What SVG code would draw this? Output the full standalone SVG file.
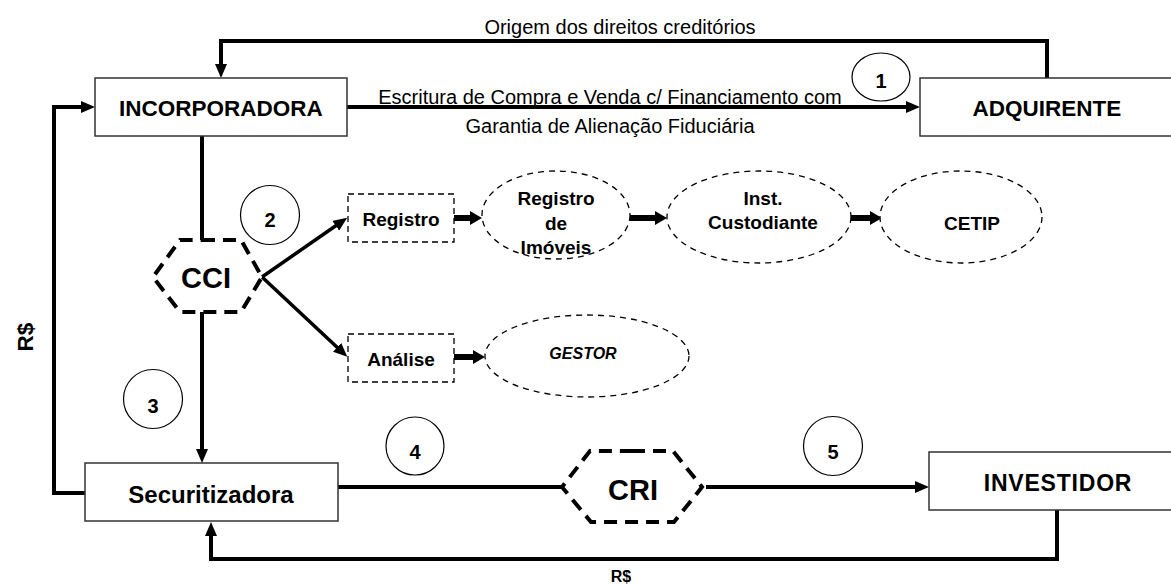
<svg xmlns="http://www.w3.org/2000/svg" width="1171" height="584" viewBox="0 0 1171 584">
<style>
.box{fill:#fff;stroke:#333;stroke-width:1.5}
.dbox{fill:#fff;stroke:#000;stroke-width:1.3;stroke-dasharray:6 4}
.dell{fill:#fff;stroke:#000;stroke-width:1.3;stroke-dasharray:6 5}
.hex{fill:#fff;stroke:#000;stroke-width:4;stroke-dasharray:13 8}
.num{fill:#fff;stroke:#000;stroke-width:1.2}
.ln{fill:none;stroke:#000;stroke-width:4}
.lnd{fill:none;stroke:#000;stroke-width:3.5}
.t{font-family:"Liberation Sans",Arial,sans-serif;fill:#000;text-anchor:middle}
.b{font-weight:bold}
.big{font-size:22.5px}
.mid{font-size:19px}
.lab{font-size:20px}
.n{font-size:20px;font-weight:bold}
</style>
<defs>
<marker id="ah" viewBox="0 0 14 12" refX="4" refY="6" markerWidth="14" markerHeight="12" markerUnits="userSpaceOnUse" orient="auto">
<path d="M0,0 L14,6 L0,12 z" fill="#000"/>
</marker>
</defs>

<g id="connectors">
<polyline class="ln" points="1047,78 1047,41 221,41 221,68" marker-end="url(#ah)"/>
<line class="ln" x1="347" y1="107" x2="910" y2="107" marker-end="url(#ah)"/>
<polyline class="ln" points="85,493 54,493 54,107 85,107" marker-end="url(#ah)"/>
<line class="ln" x1="202" y1="136" x2="202" y2="240"/>
<line class="ln" x1="202" y1="312" x2="202" y2="453" marker-end="url(#ah)"/>
<line class="lnd" x1="262" y1="277" x2="339" y2="223.5" marker-end="url(#ah)"/>
<line class="lnd" x1="262" y1="277" x2="340" y2="350" marker-end="url(#ah)"/>
<line class="ln" x1="338" y1="487" x2="562" y2="487"/>
<line class="ln" x1="706" y1="487" x2="919" y2="487" marker-end="url(#ah)"/>
<polyline class="ln" points="1057,510 1057,559 211,559 211,532" marker-end="url(#ah)"/>
<path d="M454,215 L470,215 L470,211 L482,218 L470,225 L470,221 L454,221 z" fill="#000"/>
<path d="M630,215 L655,215 L655,211 L667,218 L655,225 L655,221 L630,221 z" fill="#000"/>
<path d="M850,215 L870,215 L870,211 L882,218 L870,225 L870,221 L850,221 z" fill="#000"/>
<path d="M454,354 L473,354 L473,350 L485,357 L473,364 L473,360 L454,360 z" fill="#000"/>
</g>

<text class="t lab" x="620" y="34">Origem dos direitos creditórios</text>
<text class="t lab" x="610" y="104">Escritura de Compra e Venda c/ Financiamento com</text>
<text class="t lab" x="610" y="133">Garantia de Alienação Fiduciária</text>
<text class="t b big" transform="translate(33,337) rotate(-90)">R$</text>
<text class="t b" style="font-size:16px" x="621" y="582">R$</text>

<g id="incorporadora">
<rect class="box" x="95" y="78" width="252" height="58"/>
<text class="t b big" x="221" y="116">INCORPORADORA</text>
</g>
<g id="adquirente">
<rect class="box" x="920" y="78" width="252" height="58"/>
<text class="t b big" x="1047" y="116">ADQUIRENTE</text>
</g>
<g id="securitizadora">
<rect class="box" x="85" y="463" width="253" height="58"/>
<text class="t b" style="font-size:24px" x="211" y="503">Securitizadora</text>
</g>
<g id="investidor">
<rect class="box" x="929" y="452" width="252" height="58"/>
<text class="t b" style="font-size:23px;letter-spacing:0.8px" x="1058" y="491">INVESTIDOR</text>
</g>

<g id="cci">
<polygon class="hex" points="202,240 241,240 262,277 241,312 180,312 153,277 180,240"/>
<text class="t b" style="font-size:29px" x="206" y="288">CCI</text>
</g>
<g id="cri">
<polygon class="hex" points="632,451 673,451 702,487 674,522 591,522 562,487 590,451"/>
<text class="t b" style="font-size:29px" x="633" y="500">CRI</text>
</g>

<g id="registro">
<rect class="dbox" x="348" y="194" width="106" height="48"/>
<text class="t b mid" x="401" y="226">Registro</text>
</g>
<g id="analise">
<rect class="dbox" x="348" y="334" width="106" height="48"/>
<text class="t b mid" x="401" y="366">Análise</text>
</g>
<g id="registro-imoveis">
<ellipse class="dell" cx="556" cy="215" rx="74" ry="44"/>
<text class="t b mid" x="556" y="205">Registro</text>
<text class="t b mid" x="556" y="230">de</text>
<text class="t b mid" x="556" y="254">Imóveis</text>
</g>
<g id="custodiante">
<ellipse class="dell" cx="759" cy="217" rx="92" ry="46"/>
<text class="t b mid" x="763" y="205">Inst.</text>
<text class="t b mid" x="763" y="229">Custodiante</text>
</g>
<g id="cetip">
<ellipse class="dell" cx="961" cy="217" rx="81" ry="46"/>
<text class="t b mid" x="972" y="230">CETIP</text>
</g>
<g id="gestor">
<ellipse class="dell" cx="587" cy="356" rx="102" ry="41"/>
<text class="t b" style="font-size:16px;font-style:italic" x="583" y="359">GESTOR</text>
</g>

<g id="n1"><ellipse class="num" cx="881" cy="77" rx="29" ry="24"/><text class="t n" x="881" y="88">1</text></g>
<g id="n2"><circle class="num" cx="270" cy="215" r="29.5"/><text class="t n" x="270" y="227">2</text></g>
<g id="n3"><circle class="num" cx="153" cy="399" r="29.5"/><text class="t n" x="153" y="413">3</text></g>
<g id="n4"><circle class="num" cx="415" cy="446" r="29"/><text class="t n" x="415" y="459">4</text></g>
<g id="n5"><circle class="num" cx="833" cy="446" r="29.5"/><text class="t n" x="833" y="459">5</text></g>
</svg>
